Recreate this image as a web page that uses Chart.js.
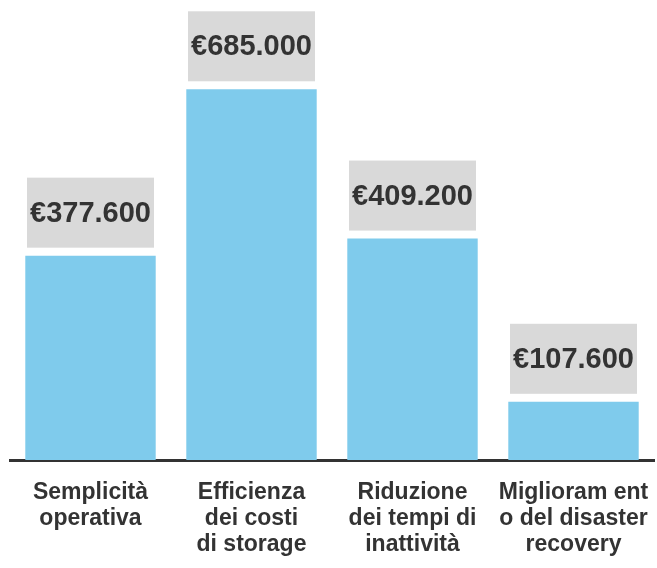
<!DOCTYPE html>
<html>
<head>
<meta charset="utf-8">
<script src="https://cdn.jsdelivr.net/npm/chart.js@4/dist/chart.umd.min.js"></script>
<style>
  html, body { margin: 0; padding: 0; background: #ffffff; }
  #wrap { width: 657px; height: 568px; position: relative; }
</style>
</head>
<body>
<div id="wrap"><canvas id="c" width="657" height="568"></canvas></div>
<script>
const categories = [
  ["Semplicità", "operativa"],
  ["Efficienza", "dei costi", "di storage"],
  ["Riduzione", "dei tempi di", "inattività"],
  ["Miglioram ent", "o del disaster", "recovery"]
];
const values = [377600, 685000, 409200, 107600];
const yMax = 850000;

function euro(v) {
  const s = String(Math.round(v));
  return "€" + s.replace(/\B(?=(\d{3})+(?!\d))/g, ".");
}

const FONT = "'Liberation Sans', Arial, Helvetica, sans-serif";

const valueBoxes = {
  id: "valueBoxes",
  afterDatasetsDraw(chart) {
    const ctx = chart.ctx;
    const meta = chart.getDatasetMeta(0);
    meta.data.forEach((bar, i) => {
      const w = 127, h = 70, gap = 8;
      const x0 = bar.x - w / 2;
      const y1 = bar.y - gap;
      const y0 = y1 - h;
      ctx.save();
      ctx.fillStyle = "#D9D9D9";
      ctx.fillRect(x0, y0, w, h);
      ctx.fillStyle = "#333333";
      ctx.font = "bold 29px " + FONT;
      ctx.textAlign = "center";
      ctx.textBaseline = "middle";
      ctx.fillText(euro(values[i]), bar.x, y0 + h / 2 + 1);
      ctx.restore();
    });
  }
};

new Chart(document.getElementById("c"), {
  type: "bar",
  data: {
    labels: categories,
    datasets: [{
      data: values,
      backgroundColor: "#7FCBEC",
      borderWidth: 0,
      barPercentage: 0.81,
      categoryPercentage: 1.0
    }]
  },
  options: {
    responsive: false,
    animation: false,
    devicePixelRatio: 1,
    layout: { padding: { left: 10, right: 3, top: 0, bottom: 8 } },
    plugins: {
      legend: { display: false },
      tooltip: { enabled: false },
      title: { display: false }
    },
    scales: {
      x: {
        grid: { display: false, drawTicks: true, tickLength: 18 },
        border: { display: true, color: "#333333", width: 3 },
        ticks: {
          color: "#333333",
          font: { family: FONT, size: 23, weight: "bold", lineHeight: 1.13 },
          padding: 2,
          maxRotation: 0,
          minRotation: 0,
          autoSkip: false
        }
      },
      y: {
        display: false,
        min: 0,
        max: yMax
      }
    }
  },
  plugins: [valueBoxes]
});
</script>
</body>
</html>
